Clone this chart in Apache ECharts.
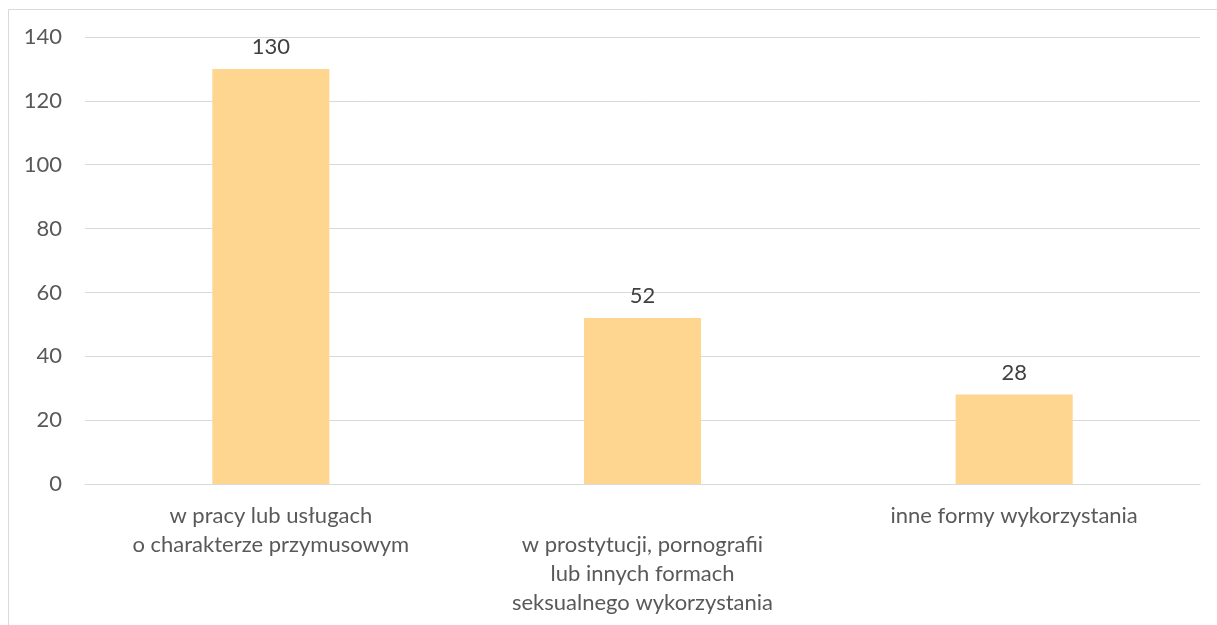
<!DOCTYPE html>
<html>
<head>
<meta charset="utf-8">
<script src="https://cdn.jsdelivr.net/npm/echarts@6/dist/echarts.min.js"></script>
<style>
html,body{margin:0;padding:0;background:#fff;}
#chart{width:1217px;height:625px;}
</style>
</head>
<body>
<div id="chart"></div>
<script>
const categories = [
  "w pracy lub usługach\no charakterze przymusowym",
  "w prostytucji, pornografii\nlub innych formach\nseksualnego wykorzystania",
  "inne formy wykorzystania"
];
const values = [130, 52, 28];
const yTicks = { min: 0, max: 140, interval: 20 };

const FONT = 'Lato';
const chart = echarts.init(document.getElementById('chart'), null, { renderer: 'canvas' });
chart.setOption({
  backgroundColor: '#ffffff',
  animation: false,
  graphic: [{
    type: 'rect',
    shape: { x: 8.5, y: 9.5, width: 1300, height: 800 },
    style: { fill: 'none', stroke: '#D9D9D9', lineWidth: 1 },
    z: -1
  }],
  grid: { left: 85, right: 17, top: 37, bottom: 141, containLabel: false },
  xAxis: {
    type: 'category',
    data: categories,
    axisLine: { show: true, lineStyle: { color: '#D9D9D9', width: 1 } },
    axisTick: { show: false },
    axisLabel: {
      interval: 0,
      margin: 17,
      color: '#595959',
      fontFamily: FONT,
      fontSize: 22,
      lineHeight: 29,
      formatter: function (v, i) { return i % 2 === 1 ? '\n' + v : v; }
    }
  },
  yAxis: {
    type: 'value',
    min: yTicks.min,
    max: yTicks.max,
    interval: yTicks.interval,
    axisLine: { show: false },
    axisTick: { show: false },
    splitLine: { lineStyle: { color: '#D9D9D9', width: 1 } },
    axisLabel: { margin: 23, color: '#595959', fontFamily: FONT, fontSize: 22 }
  },
  series: [{
    type: 'bar',
    data: values,
    barWidth: '31.5%',
    itemStyle: { color: '#FFD68F' },
    label: {
      show: true,
      position: 'top',
      distance: 11,
      color: '#404040',
      fontFamily: FONT,
      fontSize: 22
    }
  }]
});
</script>
</body>
</html>
